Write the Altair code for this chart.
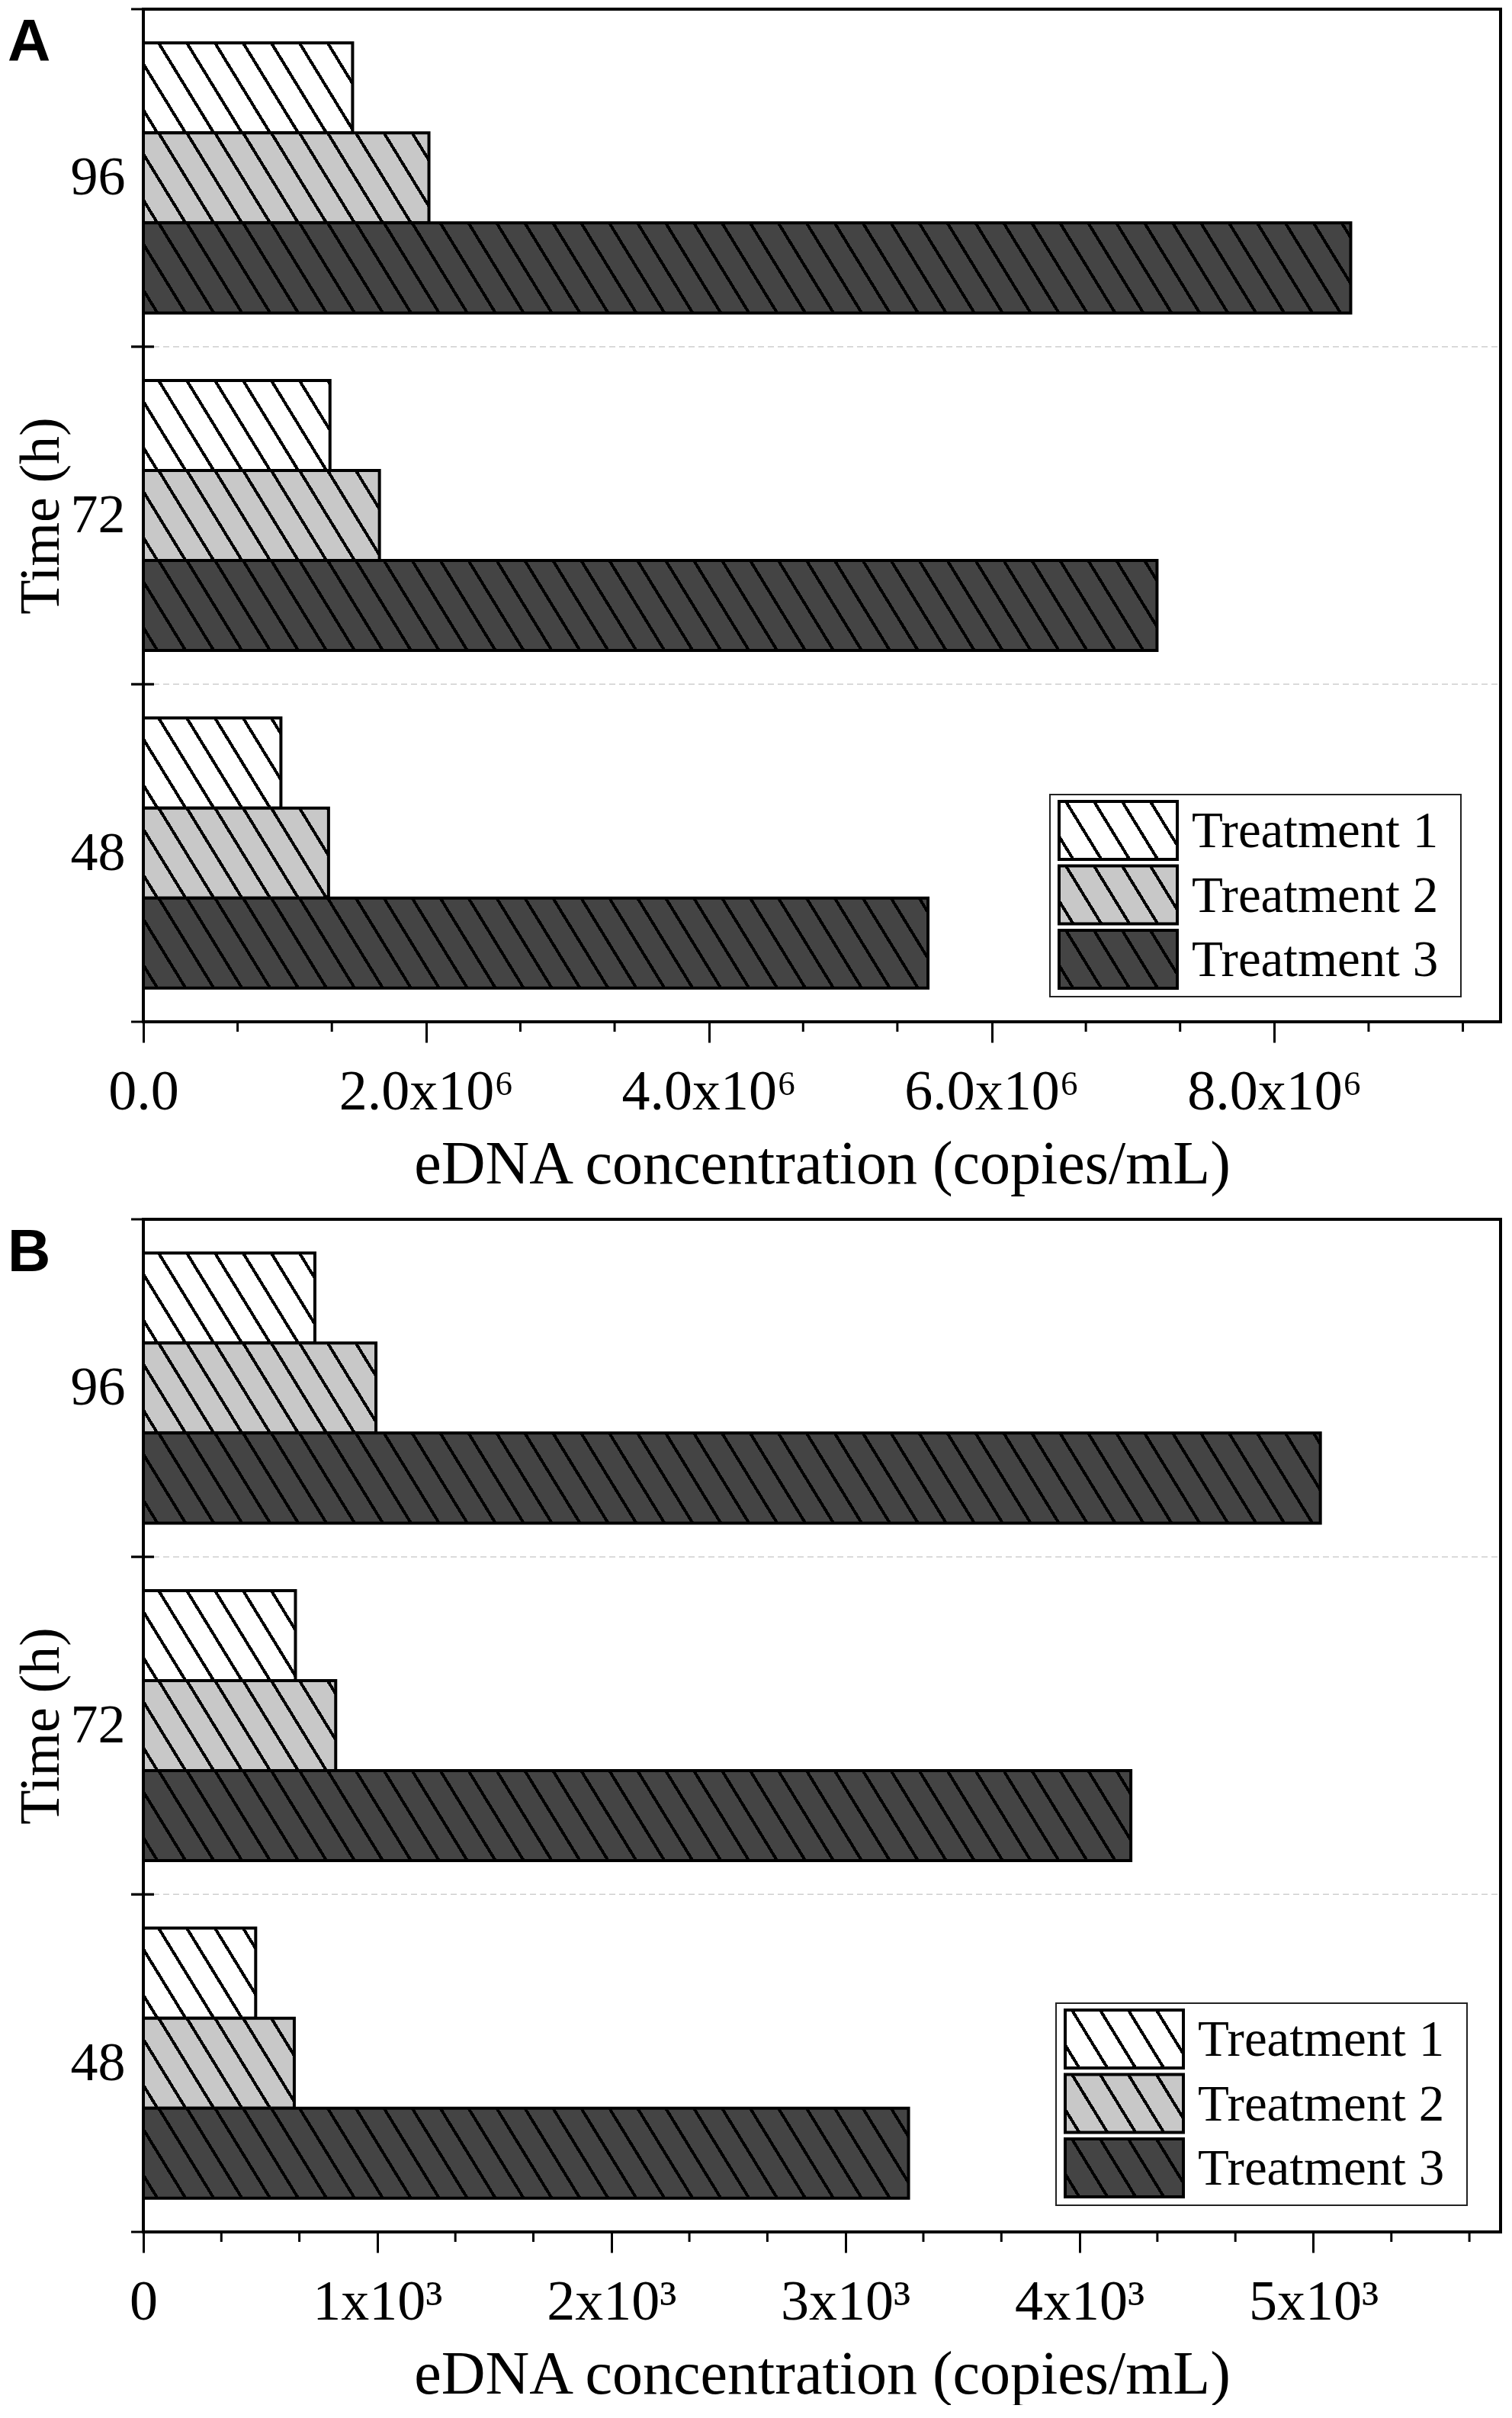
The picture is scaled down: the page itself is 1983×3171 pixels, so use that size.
import math
import altair as alt
import pandas as pd

# ---------------- data ----------------
TIMES = ["96", "72", "48"]
TREATMENTS = ["Treatment 1", "Treatment 2", "Treatment 3"]

# Panel A (copies/mL), order follows TIMES
A_T1 = [1.48e6, 1.32e6, 0.973e6]
A_T2 = [2.02e6, 1.67e6, 1.31e6]
A_T3 = [8.54e6, 7.17e6, 5.55e6]

# Panel B (copies/mL)
B_T1 = [733, 650, 480]
B_T2 = [994, 822, 645]
B_T3 = [5030, 4220, 3270]

A_TICKS = [0, 2e6, 4e6, 6e6, 8e6]
A_TICK_LABELS = ["0.0", "2.0x10⁶", "4.0x10⁶", "6.0x10⁶", "8.0x10⁶"]
A_MINOR = [0.6667e6, 1.3333e6, 2.6667e6, 3.3333e6, 4.6667e6, 5.3333e6,
           6.6667e6, 7.3333e6, 8.6667e6, 9.3333e6]
A_MAX = 9.6e6

B_TICKS = [0, 1000, 2000, 3000, 4000, 5000]
B_TICK_LABELS = ["0", "1x10³", "2x10³", "3x10³", "4x10³", "5x10³"]
B_MINOR = [333.3, 666.7, 1333.3, 1666.7, 2333.3, 2666.7, 3333.3, 3666.7,
           4333.3, 4666.7, 5333.3, 5666.7]
B_MAX = 5800

X_TITLE = "eDNA concentration (copies/mL)"
Y_TITLE = "Time (h)"

# ---------------- style ----------------
FILLS = ["#ffffff", "#c8c8c8", "#444444"]
W, H = 1780, 1328
SERIF = "Liberation Serif"
THETA = math.radians(58.5)
HDX, HDY = math.cos(THETA), math.sin(THETA)
SPACING = 31.5
LINE_W = 4.0


def hatch(fill, w, h):
    """Linear gradient imitating a '\\' hatch on a w x h box."""
    D = w * HDY + h * HDX
    gx, gy = HDY / h, -HDX / w
    L = gx - gy
    g2 = gx * gx + gy * gy
    x1, y1 = 0.0, 1.0
    x2 = x1 + gx * L / g2
    y2 = y1 + gy * L / g2
    stops = [{"offset": 0, "color": fill}]
    c = SPACING * 0.5
    while c - LINE_W / 2 < D:
        a = max(0.0, (c - LINE_W / 2) / D)
        b = min(1.0, (c + LINE_W / 2) / D)
        a, b = round(a, 6), round(b, 6)
        stops += [{"offset": a, "color": fill}, {"offset": a, "color": "black"},
                  {"offset": b, "color": "black"}, {"offset": b, "color": fill}]
        c += SPACING
    stops.append({"offset": 1, "color": fill})
    return {"gradient": "linear", "x1": x1, "y1": y1, "x2": x2, "y2": y2, "stops": stops}


def label_expr(ticks, labels):
    parts = [f"datum.value == {float(v)} ? '{l}'" for v, l in zip(ticks, labels)]
    return " : ".join(parts) + " : ''"


def panel(letter, series, xmax, ticks, tick_labels, minor, leg_dx, leg_dy):
    rows = []
    for s, vals in zip(TREATMENTS, series):
        for t, v in zip(TIMES, vals):
            rows.append({"Time": t, "Treatment": s, "Value": v})
    df = pd.DataFrame(rows)

    x_scale = alt.Scale(domain=[0, xmax], nice=False, zero=True)
    x_axis = alt.Axis(values=ticks, labelExpr=label_expr(ticks, tick_labels),
                      tickSize=27, tickWidth=3, tickColor="black", domain=False,
                      grid=False, labelFont=SERIF, labelFontSize=74, labelPadding=29,
                      labelColor="black", labelFlush=False, labelOverlap=False,
                      labelLimit=0,
                      titleFont=SERIF, titleFontSize=80, titleFontWeight="normal",
                      titlePadding=19, titleColor="black")

    def X(field):
        return alt.X(field, type="quantitative", scale=x_scale, axis=x_axis, title=X_TITLE)

    y_scale = alt.Scale(domain=TIMES, paddingInner=0, paddingOuter=0)
    y_axis = alt.Axis(ticks=False, tickSize=0, domain=False, grid=False,
                      labelFont=SERIF, labelFontSize=72, labelPadding=24,
                      labelColor="black", labelAngle=0, titleFont=SERIF,
                      titleFontSize=74, titleFontWeight="normal", titlePadding=0,
                      titleColor="black")

    def Y(band_pos=None):
        if band_pos is None:
            return alt.Y("Time:N", title=Y_TITLE, scale=y_scale, axis=y_axis)
        return alt.Y("Time:N", title=Y_TITLE, scale=y_scale, axis=y_axis,
                     bandPosition=band_pos)

    yo = alt.YOffset("Treatment:N",
                     scale=alt.Scale(domain=TREATMENTS, paddingInner=0, paddingOuter=0.375))

    times_df = pd.DataFrame({"Time": TIMES})
    layers = []
    # dashed separators between time groups
    layers.append(
        alt.Chart(times_df)
        .mark_rule(stroke="#cfcfcf", strokeDash=[8, 5], strokeWidth=1.5)
        .encode(y=Y(0), x=alt.value(0), x2=alt.value(W))
    )

    bar_h = H / 3 / 3.75
    for j, s in enumerate(TREATMENTS):
        for i, t in enumerate(TIMES):
            w = series[j][i] / xmax * W
            layers.append(
                alt.Chart()
                .transform_filter((alt.datum.Time == t) & (alt.datum.Treatment == s))
                .mark_bar(fill=hatch(FILLS[j], w, bar_h), stroke="black", strokeWidth=4)
                .encode(x=X("Value"), y=Y(), yOffset=yo)
            )

    # y ticks at group boundaries (crossing the axis)
    for bp in (0, 1):
        layers.append(
            alt.Chart(times_df)
            .mark_rule(stroke="black", strokeWidth=3)
            .encode(y=Y(bp), x=alt.value(-16), x2=alt.value(14))
        )
    # minor x ticks
    layers.append(
        alt.Chart(pd.DataFrame({"Value": minor}))
        .mark_rule(stroke="black", strokeWidth=3)
        .encode(x=X("Value"), y=alt.value(H), y2=alt.value(H + 13))
    )
    # frame
    layers.append(
        alt.Chart(pd.DataFrame({"f": [0]}))
        .mark_rect(fill="white", fillOpacity=0, stroke="black", strokeWidth=4)
        .encode(x=alt.value(0), x2=alt.value(W), y=alt.value(0), y2=alt.value(H))
    )
    # legend
    lx0, lx1 = 1189 + leg_dx, 1728 + leg_dx
    ly0, ly1 = 1030 + leg_dy, 1295 + leg_dy
    layers.append(
        alt.Chart(pd.DataFrame({"f": [0]}))
        .mark_rect(fill="white", stroke="#222222", strokeWidth=2)
        .encode(x=alt.value(lx0), x2=alt.value(lx1), y=alt.value(ly0), y2=alt.value(ly1))
    )
    sw_x0, sw_x1, sw_h = 1201 + leg_dx, 1356 + leg_dx, 76
    for j, s in enumerate(TREATMENTS):
        top = 1039 + leg_dy + j * 84.5
        ldf = pd.DataFrame({"Treatment": [s]})
        layers.append(
            alt.Chart(ldf)
            .mark_rect(fill=hatch(FILLS[j], sw_x1 - sw_x0, sw_h), stroke="black", strokeWidth=4)
            .encode(x=alt.value(sw_x0), x2=alt.value(sw_x1), y=alt.value(top),
                    y2=alt.value(top + sw_h))
        )
        layers.append(
            alt.Chart(ldf)
            .mark_text(align="left", baseline="middle", font=SERIF, fontSize=67, color="black")
            .encode(text="Treatment:N", x=alt.value(1375 + leg_dx), y=alt.value(top + sw_h / 2 + 2))
        )
    # panel letter
    layers.append(
        alt.Chart(pd.DataFrame({"letter": [letter]}))
        .mark_text(align="left", baseline="top", font="Liberation Sans", fontWeight="bold",
                   fontSize=78, color="black")
        .encode(text="letter:N", x=alt.value(-178), y=alt.value(6))
    )
    return alt.layer(*layers, data=df).properties(width=W, height=H)


pA = panel("A", [A_T1, A_T2, A_T3], A_MAX, A_TICKS, A_TICK_LABELS, A_MINOR, 0, 0)
pB = panel("B", [B_T1, B_T2, B_T3], B_MAX, B_TICKS, B_TICK_LABELS, B_MINOR, 8, -2)

chart = (
    alt.vconcat(pA, pB, spacing=30)
    .properties(padding={"left": 2, "top": 2, "right": 0, "bottom": 0}, background="white")
    .configure_view(strokeWidth=0)
)

chart.save("out.html", embed_options={"renderer": "svg", "actions": False})
